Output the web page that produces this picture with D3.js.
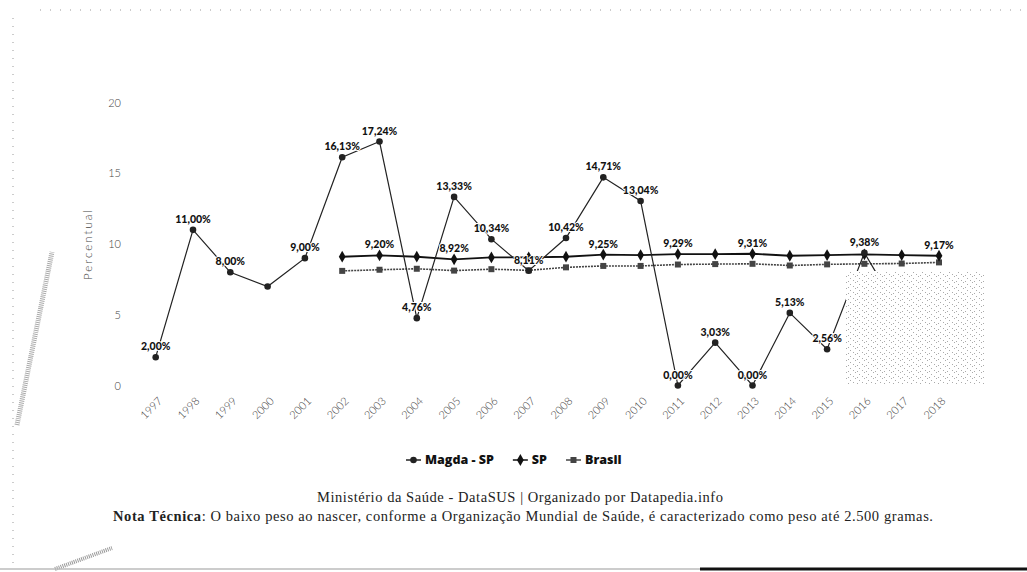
<!DOCTYPE html>
<html>
<head>
<meta charset="utf-8">
<script src="https://cdn.jsdelivr.net/npm/d3@7"></script>
<style>
body { margin: 0; background: #fff; }
svg { display: block; }
.tick text { font-family: Lato, "Open Sans", sans-serif; font-weight: 300; fill: #444; }
</style>
</head>
<body>
<div id="chart"></div>
<script>
// data (baixo peso ao nascer, %)
var years = [1997, 1998, 1999, 2000, 2001, 2002, 2003, 2004, 2005, 2006, 2007,
             2008, 2009, 2010, 2011, 2012, 2013, 2014, 2015, 2016, 2017, 2018];
var magda = [2.00, 11.00, 8.00, 7.00, 9.00, 16.13, 17.24, 4.76, 13.33, 10.34, 8.11,
             10.42, 14.71, 13.04, 0.00, 3.03, 0.00, 5.13, 2.56, 9.38, 4.90, 4.50];
var sp = [null, null, null, null, null, 9.10, 9.20, 9.10, 8.92, 9.05, 9.05,
          9.10, 9.25, 9.22, 9.29, 9.28, 9.31, 9.17, 9.22, 9.27, 9.22, 9.17];
var brasil = [null, null, null, null, null, 8.10, 8.18, 8.25, 8.12, 8.22, 8.14,
              8.35, 8.45, 8.45, 8.55, 8.58, 8.60, 8.48, 8.56, 8.60, 8.62, 8.70];
// which points carry a data label
var magdaLabelYears = [1997, 1998, 1999, 2001, 2002, 2003, 2004, 2005, 2006, 2007,
                       2008, 2009, 2010, 2011, 2012, 2013, 2014, 2015, 2016];
var spLabelYears = [2003, 2005, 2009, 2011, 2013, 2018];
var yTicks = [0, 5, 10, 15, 20];
var seriesNames = ['Magda - SP', 'SP', 'Brasil'];

var W = 1027, H = 572;

var svg = d3.select('#chart')
    .append('svg')
    .attr('width', W)
    .attr('height', H);

var x = d3.scalePoint().domain(years).range([155.7, 939]);
var y = d3.scaleLinear().domain([0, 20]).range([385.5, 102.5]);

var fmt = function(v){ return v.toFixed(2).replace('.', ',') + '%'; };

// scan border remains
svg.append('line').attr('x1', 40).attr('x2', 1027).attr('y1', 10).attr('y2', 10)
    .attr('stroke', '#999').attr('stroke-width', 1).attr('stroke-dasharray', '1,9');
svg.append('line').attr('x1', 13).attr('x2', 13).attr('y1', 18).attr('y2', 568)
    .attr('stroke', '#999').attr('stroke-width', 1).attr('stroke-dasharray', '1,7');
svg.append('line').attr('x1', 17).attr('y1', 425).attr('x2', 52).attr('y2', 252)
    .attr('stroke', '#aaa').attr('stroke-width', 5).attr('stroke-dasharray', '1,1');
svg.append('line').attr('x1', 55).attr('y1', 569).attr('x2', 112).attr('y2', 548)
    .attr('stroke', '#999').attr('stroke-width', 4).attr('stroke-dasharray', '1,1');
svg.append('line').attr('x1', 0).attr('x2', 1027).attr('y1', 569).attr('y2', 569)
    .attr('stroke', '#bbb').attr('stroke-width', 1.5);
svg.append('line').attr('x1', 700).attr('x2', 1027).attr('y1', 569).attr('y2', 569)
    .attr('stroke', '#111').attr('stroke-width', 3);

// y axis
var yAxis = svg.append('g')
    .attr('transform', 'translate(121,0)')
    .call(d3.axisLeft(y).tickValues(yTicks).tickSize(0).tickPadding(0));
yAxis.select('.domain').remove();
yAxis.selectAll('text').style('font-size', '11px');

svg.append('text')
    .attr('transform', 'translate(92,' + ((y(0) + y(20)) / 2) + ') rotate(-90)')
    .attr('text-anchor', 'middle')
    .style('font-family', 'Lato, sans-serif')
    .style('font-weight', 300)
    .style('font-size', '11.5px')
    .style('letter-spacing', '2px')
    .attr('fill', '#444')
    .text('Percentual');

// x axis
var xAxis = svg.append('g')
    .attr('transform', 'translate(0,392)')
    .call(d3.axisBottom(x).tickSize(0));
xAxis.select('.domain').remove();
xAxis.selectAll('text')
    .attr('x', 0).attr('y', 0).attr('dy', '0.35em')
    .attr('text-anchor', 'end')
    .attr('transform', 'translate(4,7) rotate(-45)')
    .style('font-size', '11px');

// lines
var line = d3.line()
    .defined(function(d){ return d.v != null; })
    .x(function(d){ return x(d.year); })
    .y(function(d){ return y(d.v); });

function pts(arr){ return years.map(function(yr, i){ return {year: yr, v: arr[i]}; }); }

var series = [
    {name: seriesNames[2], data: pts(brasil), color: '#444', width: 1.6, dash: '2,1', sym: d3.symbolSquare, size: 36},
    {name: seriesNames[1], data: pts(sp), color: '#111', width: 1.8, dash: null, sym: d3.symbolDiamond, size: 40},
    {name: seriesNames[0], data: pts(magda), color: '#222', width: 1.2, dash: null, sym: d3.symbolCircle, size: 34}
];

series.forEach(function(s){
    svg.append('path')
        .datum(s.data)
        .attr('fill', 'none')
        .attr('stroke', s.color)
        .attr('stroke-width', s.width)
        .attr('stroke-dasharray', s.dash)
        .attr('d', line);
    svg.append('g')
        .selectAll('path')
        .data(s.data.filter(function(d){ return d.v != null; }))
        .enter()
        .append('path')
        .attr('transform', function(d){ return 'translate(' + x(d.year) + ',' + y(d.v) + ')'; })
        .attr('d', d3.symbol().type(s.sym).size(s.size))
        .attr('fill', s.color);
});

// data labels
function labels(arr, shown){
    svg.append('g')
        .selectAll('text')
        .data(pts(arr).filter(function(d){ return shown.indexOf(d.year) >= 0; }))
        .enter()
        .append('text')
        .attr('x', function(d){ return x(d.year); })
        .attr('y', function(d){ return y(d.v) - 7; })
        .attr('text-anchor', 'middle')
        .style('font-family', 'Lato, sans-serif')
        .style('font-weight', 900)
        .style('font-size', '10.5px')
        .attr('fill', '#111')
        .attr('stroke', '#fff')
        .attr('stroke-width', 2)
        .attr('paint-order', 'stroke')
        .text(function(d){ return fmt(d.v); });
}
labels(magda, magdaLabelYears);
labels(sp, spLabelYears);

// stippled blot covering the end of the chart in the scan
var defs = svg.append('defs');
var pat = defs.append('pattern')
    .attr('id', 'stip')
    .attr('width', 9).attr('height', 6)
    .attr('patternUnits', 'userSpaceOnUse');
[[0,0],[4,2],[7,4],[2,5]].forEach(function(p){
    pat.append('rect').attr('x', p[0]).attr('y', p[1]).attr('width', 1).attr('height', 1).attr('fill', '#aaa');
});
svg.append('rect').attr('x', 846).attr('y', 271).attr('width', 139).attr('height', 113).attr('fill', '#fff');
svg.append('rect').attr('x', 846).attr('y', 271).attr('width', 139).attr('height', 113).attr('fill', 'url(#stip)');

// legend
var legend = svg.append('g').attr('transform', 'translate(0,460)');
var lx = 406;
[series[2], series[1], series[0]].forEach(function(s){
    var it = legend.append('g').attr('transform', 'translate(' + lx + ',0)');
    it.append('line').attr('x1', 0).attr('x2', 15).attr('stroke', s.color).attr('stroke-width', 1.5);
    it.append('path').attr('transform', 'translate(7.5,0)')
        .attr('d', d3.symbol().type(s.sym).size(s.size)).attr('fill', s.color);
    var t = it.append('text')
        .attr('x', 19).attr('dy', '0.35em')
        .style('font-family', '"Open Sans", sans-serif')
        .style('font-weight', 800)
        .style('font-size', '12.5px')
        .attr('fill', '#111')
        .text(s.name);
    lx += 19 + t.node().getComputedTextLength() + 19;
});

// source and note
svg.append('text')
    .attr('x', 317).attr('y', 502)
    .attr('textLength', 406)
    .attr('lengthAdjust', 'spacing')
    .style('font-family', '"Liberation Serif", serif')
    .style('font-size', '14.5px')
    .attr('fill', '#222')
    .text('Ministério da Saúde - DataSUS | Organizado por Datapedia.info');

var note = svg.append('text')
    .attr('x', 113).attr('y', 521)
    .attr('textLength', 820)
    .attr('lengthAdjust', 'spacing')
    .style('font-family', '"Liberation Serif", serif')
    .style('font-size', '14.5px')
    .attr('fill', '#222');
note.append('tspan').style('font-weight', 'bold').text('Nota Técnica');
note.append('tspan').text(': O baixo peso ao nascer, conforme a Organização Mundial de Saúde, é caracterizado como peso até 2.500 gramas.');
</script>
</body>
</html>
